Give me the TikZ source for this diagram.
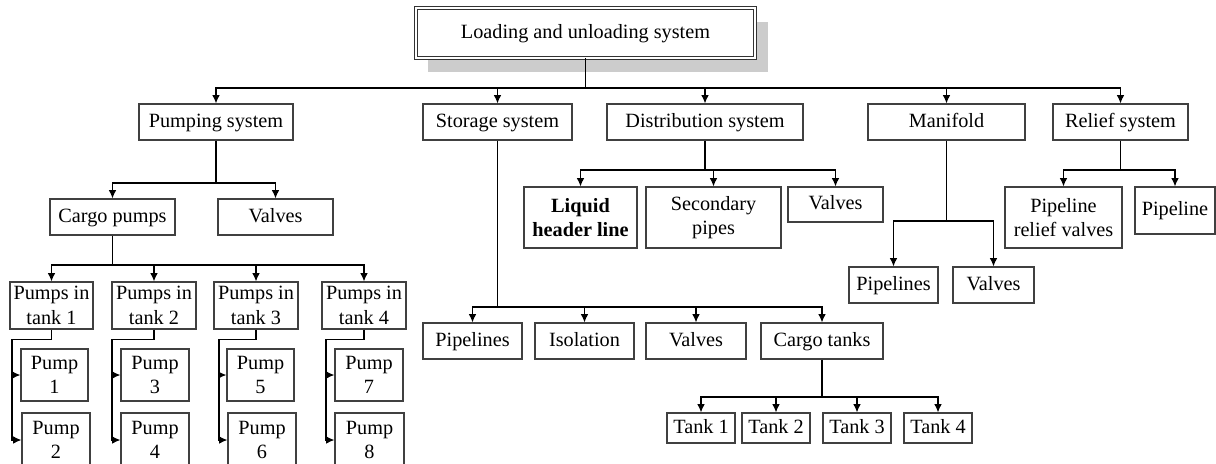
\documentclass[tikz,border=0pt]{standalone}
\usepackage{fontspec}
\setmainfont{Liberation Serif}
\usepackage{tikz}
\usetikzlibrary{arrows.meta,positioning}
\tikzset{
      box/.style     = {draw=black!75, line width=0.8pt, fill=white, inner sep=0pt, align=center,
                        font=\fontsize{14.4}{17.5}\selectfont},
      one/.style     = {box, text height=0.9em, text depth=0.12em},
      sz/.style 2 args = {minimum width=#1*0.025cm, minimum height=#2*0.025cm},
      rootbox/.style = {one, draw=black!80, line width=0.6pt, double, double distance=1.6pt},
      treeedge/.style = {black, line width=0.9pt, ->, >={Latex[length=6pt, width=5.5pt]}},
      shadowgray/.style = {fill=black!20},
    }

\begin{document}
\begin{tikzpicture}[x=0.025cm, y=-0.025cm]
    \useasboundingbox (0,0) rectangle (1216,463);
    \clip (0,0) rectangle (1216,463);

    % root
    \fill[shadowgray] (428,22) rectangle (768,72);
    \node [rootbox, sz={339}{50}] (top) at (585.5,33) {Loading and unloading system};

    % first level
    \node [one, sz={154}{36}] (pump) at (216,122) {Pumping system};
    \node [one, sz={149}{36}] (stor) at (497.5,122) {Storage system};
    \node [one, sz={196}{36}] (dist) at (705,122) {Distribution system};
    \node [one, sz={157}{36}] (mani) at (946.5,122) {Manifold};
    \node [one, sz={135}{36}] (reli) at (1120.5,122) {Relief system};

    % pumping system
    \node [one, sz={125}{36}] (cpum) at (112.5,217) {Cargo pumps};
    \node [one, sz={115}{36}] (pval) at (275.5,217) {Valves};
    \node [box, sz={83}{47}] (pit1) at (51.5,305.5) {Pumps in\\tank 1};
    \node [box, sz={84}{47}] (pit2) at (154,305.5) {Pumps in\\tank 2};
    \node [box, sz={84}{47}] (pit3) at (256,305.5) {Pumps in\\tank 3};
    \node [box, sz={84}{47}] (pit4) at (364,305.5) {Pumps in\\tank 4};
    \node [box, sz={67}{52}] (p1) at (54.5,375) {Pump\\1};
    \node [box, sz={68}{52}] (p3) at (155,375) {Pump\\3};
    \node [box, sz={67}{52}] (p5) at (260.5,375) {Pump\\5};
    \node [box, sz={68}{52}] (p7) at (369,375) {Pump\\7};
    \node [box, sz={68}{54}] (p2) at (56,440) {Pump\\2};
    \node [box, sz={68}{54}] (p4) at (155,440) {Pump\\4};
    \node [box, sz={68}{54}] (p6) at (262,440) {Pump\\6};
    \node [box, sz={69}{54}] (p8) at (369.5,440) {Pump\\8};

    % storage system
    \node [one, sz={99}{36}] (spip) at (472.5,341) {Pipelines};
    \node [one, sz={99}{36}] (siso) at (584.5,341) {Isolation};
    \node [one, sz={100}{36}] (sval) at (696,341) {Valves};
    \node [one, sz={122}{36}] (ctank) at (822,341) {Cargo tanks};
    \node [one, sz={68}{30}] (tk1) at (701,428) {Tank 1};
    \node [one, sz={68}{30}] (tk2) at (776,428) {Tank 2};
    \node [one, sz={68}{30}] (tk3) at (857,428) {Tank 3};
    \node [one, sz={68}{30}] (tk4) at (938,428) {Tank 4};

    % distribution system
    \node [box, sz={113}{61}, font=\fontsize{14.4}{17.5}\selectfont\bfseries] (liq) at (580.5,217.5) {Liquid\\header line};
    \node [box, sz={135}{61}] (sec) at (713.5,217.5) {Secondary\\pipes};
    \node [one, sz={95}{35}] (dval) at (835.5,204.5) {Valves};

    % manifold
    \node [one, sz={89}{36}] (mpip) at (893.5,285) {Pipelines};
    \node [one, sz={81}{36}] (mval) at (993.5,285) {Valves};

    % relief system
    \node [box, sz={117}{61}] (prv) at (1063.5,217.5) {Pipeline\\relief valves};
    \node [one, sz={80}{47}] (pipe) at (1175,210.5) {Pipeline};

    % bus points
    \coordinate (b0) at (585.5,88);
    \coordinate (bpump) at (216,183);
    \coordinate (bcpum) at (112.5,265);
    \coordinate (bstor) at (497.5,307);
    \coordinate (btank) at (822,397);
    \coordinate (bdist) at (705,170);
    \coordinate (bmani) at (946.5,221);
    \coordinate (breli) at (1120.5,170);
    \coordinate (c1) at (12,375);
    \coordinate (c2) at (112,375);
    \coordinate (c3) at (219,375);
    \coordinate (c4) at (326,375);

    \draw[treeedge] (top.south) -- (b0) -| (pump.north);
    \draw[treeedge] (b0) -| (stor.north);
    \draw[treeedge] (b0) -| (dist.north);
    \draw[treeedge] (b0) -| (mani.north);
    \draw[treeedge] (b0) -| (reli.north);

    \draw[treeedge] (pump.south) -- (bpump) -| (cpum.north);
    \draw[treeedge] (bpump) -| (pval.north);
    \draw[treeedge] (cpum.south) -- (bcpum) -| (pit1.north);
    \draw[treeedge] (bcpum) -| (pit2.north);
    \draw[treeedge] (bcpum) -| (pit3.north);
    \draw[treeedge] (bcpum) -| (pit4.north);

    \draw[treeedge] (pit1.south) -- ++(0,10) -| (c1) |- (p1.west);
    \draw[treeedge] (c1) |- (p2.west);
    \draw[treeedge] (pit2.south) -- ++(0,10) -| (c2) |- (p3.west);
    \draw[treeedge] (c2) |- (p4.west);
    \draw[treeedge] (pit3.south) -- ++(0,10) -| (c3) |- (p5.west);
    \draw[treeedge] (c3) |- (p6.west);
    \draw[treeedge] (pit4.south) -- ++(0,10) -| (c4) |- (p7.west);
    \draw[treeedge] (c4) |- (p8.west);

    \draw[treeedge] (stor.south) -- (bstor) -| (spip.north);
    \draw[treeedge] (bstor) -| (siso.north);
    \draw[treeedge] (bstor) -| (sval.north);
    \draw[treeedge] (bstor) -| (ctank.north);
    \draw[treeedge] (ctank.south) -- (btank) -| (tk1.north);
    \draw[treeedge] (btank) -| (tk2.north);
    \draw[treeedge] (btank) -| (tk3.north);
    \draw[treeedge] (btank) -| (tk4.north);

    \draw[treeedge] (dist.south) -- (bdist) -| (liq.north);
    \draw[treeedge] (bdist) -| (sec.north);
    \draw[treeedge] (bdist) -| (dval.north);

    \draw[treeedge] (mani.south) -- (bmani) -| (mpip.north);
    \draw[treeedge] (bmani) -| (mval.north);

    \draw[treeedge] (reli.south) -- (breli) -| (prv.north);
    \draw[treeedge] (breli) -| (pipe.north);
\end{tikzpicture}
\end{document}
